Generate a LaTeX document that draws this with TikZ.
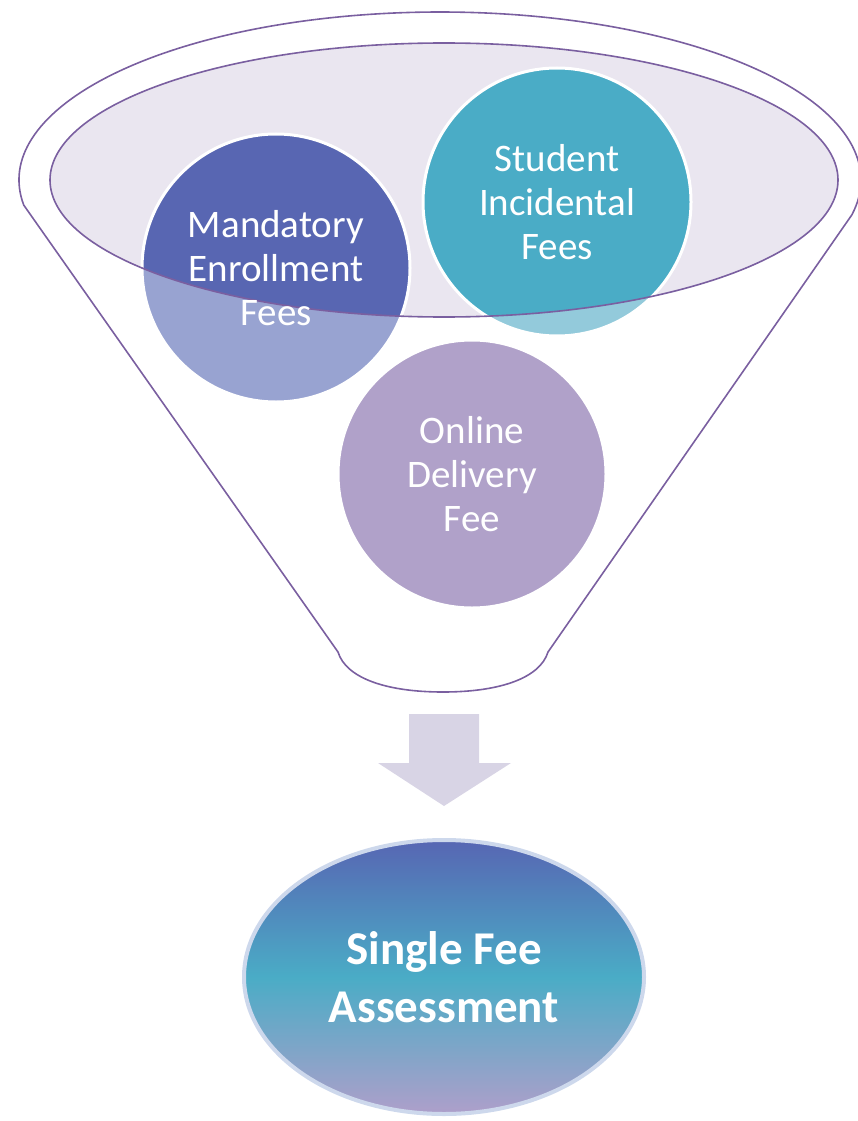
\documentclass[tikz,border=0pt]{standalone}
\usepackage{fontspec}
\setmainfont{Carlito}
\usetikzlibrary{shapes.geometric,positioning}
\definecolor{funnelline}{RGB}{122,95,160}
\definecolor{rimfill}{RGB}{234,230,240}
\definecolor{mandark}{RGB}{88,102,178}
\definecolor{manlight}{RGB}{152,163,209}
\definecolor{studark}{RGB}{74,172,198}
\definecolor{stulight}{RGB}{147,202,219}
\definecolor{onllight}{RGB}{176,161,201}
\definecolor{arrowfill}{RGB}{216,212,229}
\definecolor{resborder}{RGB}{205,216,236}
\definecolor{restop}{RGB}{87,102,179}
\definecolor{resmid}{RGB}{74,172,198}
\definecolor{resbot}{RGB}{174,159,202}

\begin{document}
\begin{tikzpicture}[
  x=1pt, y=-1pt,
  funnel/.style={draw=funnelline, line width=1.6pt},
  fee/.style={circle, minimum size=268pt, inner sep=0pt},
  ring/.style={draw=white, line width=3pt},
  feetext/.style={align=center, text=white, font=\fontsize{39}{44}\selectfont},
  result/.style={ellipse, minimum width=400pt, minimum height=274pt, inner sep=0pt,
    draw=resborder, line width=4pt, top color=restop, bottom color=resbot, middle color=resmid,
    align=center, text=white, font=\bfseries\fontsize{47}{58}\selectfont}
]
  \useasboundingbox (0,0) rectangle (858,1121);

  \coordinate (top) at (440,180);
  \coordinate (rim) at (444,180);

  \draw[funnel] (top) ++(171.4:421 and 168) arc[start angle=171.4, end angle=372, x radius=421, y radius=168]
    -- (548,652) .. controls (540,678) and (500,692) .. (443,692)
    .. controls (386,692) and (346,678) .. (338,652) -- cycle;
  \fill[rimfill] (rim) ellipse[x radius=394, y radius=137];

  \node[fee, fill=manlight] (mandatory) at (276,268) {};
  \node[fee, fill=stulight] (student) at (557,202) {};
  \node[fee, fill=onllight] (online) at (472,474) {};
  \begin{scope}
    \clip (rim) ellipse[x radius=394, y radius=137];
    \fill[mandark] (mandatory.center) circle[radius=134pt];
    \fill[studark] (student.center) circle[radius=134pt];
  \end{scope}
  \foreach \c in {mandatory,student,online}
    \draw[ring] (\c.center) circle[radius=134pt];

  \draw[funnel] (rim) ellipse[x radius=394, y radius=137];

  \node[feetext] at (mandatory) {Mandatory\\Enrollment\\Fees};
  \node[feetext] at (student) {Student\\Incidental\\Fees};
  \node[feetext] at (online) {Online\\Delivery\\Fee};

  \fill[arrowfill] (409,714) -- (479,714) -- (479,763) -- (511,763) -- (444,806)
    -- (378,763) -- (409,763) -- cycle;

  \node[result] (single) at (444,977) {Single Fee\\Assessment};
\end{tikzpicture}
\end{document}
